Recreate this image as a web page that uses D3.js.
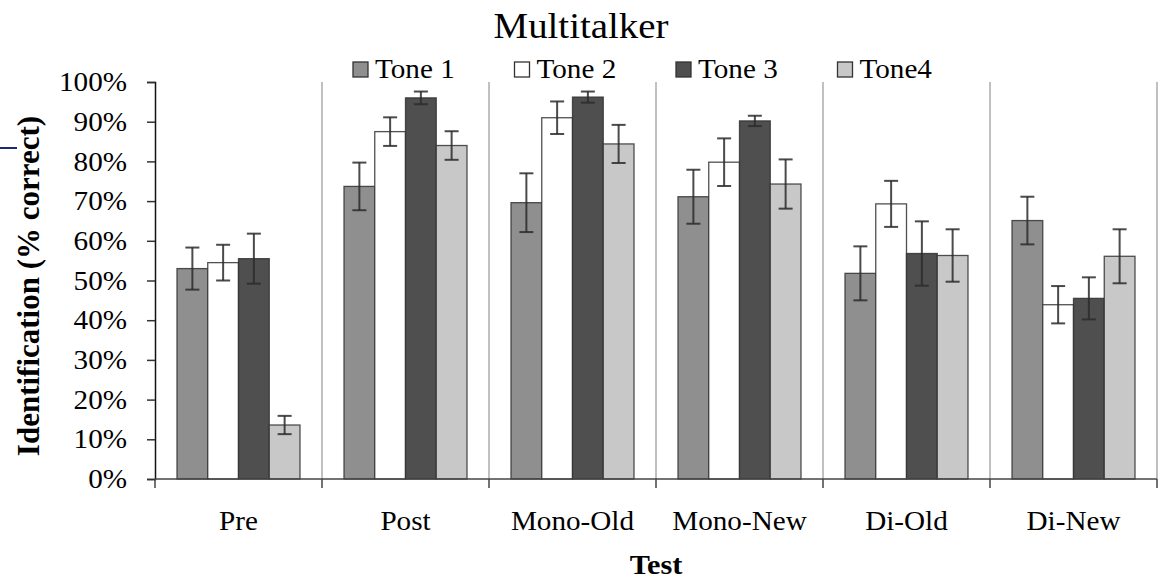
<!DOCTYPE html>
<html lang="en">
<head>
<meta charset="utf-8">
<title>Multitalker</title>
<script src="https://cdn.jsdelivr.net/npm/d3@7/dist/d3.min.js"></script>
<style>
body { margin: 0; background: #fff; }
text { font-family: "Liberation Serif", "Times New Roman", Times, serif; fill: #000; }
</style>
</head>
<body>
<script>
// data (percent correct, +/- error)
var tests = ["Pre", "Post", "Mono-Old", "Mono-New", "Di-Old", "Di-New"];
var tones = ["Tone 1", "Tone 2", "Tone 3", "Tone4"];
var tone1 = [53, 73.7, 69.6, 71.1, 51.8, 65.1];
var tone2 = [54.5, 87.5, 91, 79.8, 69.3, 43.9];
var tone3 = [55.5, 96, 96.2, 90.2, 56.8, 45.5];
var tone4 = [13.6, 84, 84.4, 74.3, 56.3, 56.1];
var err1 = [5.3, 6, 7.4, 6.8, 6.8, 6];
var err2 = [4.5, 3.6, 4.1, 6, 5.8, 4.7];
var err3 = [6.3, 1.6, 1.4, 1.3, 8.1, 5.3];
var err4 = [2.3, 3.6, 4.8, 6.2, 6.6, 6.8];
var yTicks = [0, 10, 20, 30, 40, 50, 60, 70, 80, 90, 100];

var values = [tone1, tone2, tone3, tone4];
var errors = [err1, err2, err3, err4];
var colors = ["#8f8f8f", "#ffffff", "#4f4f4f", "#c8c8c8"];

var w = 1163, h = 580;
var plotLeft = 155, plotRight = 1157, plotTop = 82, plotBottom = 479;
var SX = 1.08; // text in the picture is a bit wide

var svg = d3.select("body").append("svg")
    .attr("width", w)
    .attr("height", h);

var x0 = d3.scaleBand().domain(tests).range([plotLeft, plotRight]);
var x1 = d3.scaleBand().domain(tones).range([22, x0.bandwidth() - 22]);
var y = d3.scaleLinear().domain([0, 100]).range([plotBottom, plotTop]);

// flatten for binding
var rows = [];
tests.forEach(function(t, i) {
  tones.forEach(function(k, j) {
    rows.push({test: t, tone: k, j: j, v: values[j][i], e: errors[j][i]});
  });
});

// vertical separators
svg.append("g").selectAll("line")
  .data(tests)
  .enter().append("line")
  .attr("x1", function(d) { return x0(d) + x0.bandwidth(); })
  .attr("x2", function(d) { return x0(d) + x0.bandwidth(); })
  .attr("y1", y(100))
  .attr("y2", y(0))
  .attr("stroke", "#c0c0c0")
  .attr("stroke-width", 2);

// bars
svg.append("g").selectAll("rect")
  .data(rows)
  .enter().append("rect")
  .attr("x", function(d) { return x0(d.test) + x1(d.tone); })
  .attr("y", function(d) { return y(d.v); })
  .attr("width", x1.bandwidth())
  .attr("height", function(d) { return y(0) - y(d.v); })
  .attr("fill", function(d) { return colors[d.j]; })
  .attr("stroke", "#333")
  .attr("stroke-opacity", 0.85)
  .attr("stroke-width", 1.3);

// error bars
var eb = svg.append("g")
  .attr("stroke", "#2b2b2b")
  .attr("stroke-opacity", 0.85)
  .attr("stroke-width", 2);
var ebs = eb.selectAll("g")
  .data(rows)
  .enter().append("g")
  .attr("transform", function(d) {
    return "translate(" + (x0(d.test) + x1(d.tone) + x1.bandwidth() / 2) + ",0)";
  });
ebs.append("line")
  .attr("y1", function(d) { return y(d.v + d.e); })
  .attr("y2", function(d) { return y(d.v - d.e); });
ebs.append("line")
  .attr("x1", -7).attr("x2", 7)
  .attr("y1", function(d) { return y(d.v + d.e); })
  .attr("y2", function(d) { return y(d.v + d.e); });
ebs.append("line")
  .attr("x1", -7).attr("x2", 7)
  .attr("y1", function(d) { return y(d.v - d.e); })
  .attr("y2", function(d) { return y(d.v - d.e); });

// y axis
var yAxis = d3.axisLeft(y)
  .tickValues(yTicks)
  .tickFormat(function(d) { return d + "%"; })
  .tickSize(8)
  .tickPadding(28 / SX - 8);
var gy = svg.append("g")
  .attr("transform", "translate(" + plotLeft + ",0)")
  .call(yAxis);
gy.attr("font-family", null).attr("font-size", null);
gy.select(".domain").attr("stroke", "#111").attr("stroke-width", 1.5);
gy.selectAll(".tick line").attr("stroke", "#333").attr("stroke-width", 1.5);
gy.selectAll(".tick text")
  .style("font-size", "27px")
  .attr("transform", "scale(" + SX + ",1)");

// x axis line and boundary ticks
svg.append("line")
  .attr("x1", plotLeft).attr("x2", plotRight)
  .attr("y1", y(0)).attr("y2", y(0))
  .attr("stroke", "#444").attr("stroke-width", 1.5);
var bounds = [plotLeft].concat(tests.map(function(d) { return x0(d) + x0.bandwidth(); }));
svg.append("g").selectAll("line")
  .data(bounds)
  .enter().append("line")
  .attr("x1", function(d) { return d; })
  .attr("x2", function(d) { return d; })
  .attr("y1", y(0))
  .attr("y2", y(0) + 9)
  .attr("stroke", "#444")
  .attr("stroke-width", 1.5);

// category labels
svg.append("g").selectAll("text")
  .data(tests)
  .enter().append("text")
  .attr("transform", function(d) {
    return "translate(" + (x0(d) + x0.bandwidth() / 2) + ",530) scale(" + SX + ",1)";
  })
  .attr("text-anchor", "middle")
  .style("font-size", "27px")
  .text(function(d) { return d; });

// axis titles
svg.append("text")
  .attr("transform", "translate(" + ((plotLeft + plotRight) / 2) + ",574) scale(" + SX + ",1)")
  .attr("text-anchor", "middle")
  .style("font-size", "28px")
  .style("font-weight", "bold")
  .text("Test");

svg.append("text")
  .attr("transform", "translate(39,286) rotate(-90)")
  .attr("text-anchor", "middle")
  .style("font-size", "31px")
  .style("font-weight", "bold")
  .text("Identification (% correct)");

// title
svg.append("text")
  .attr("transform", "translate(581,38) scale(" + SX + ",1)")
  .attr("text-anchor", "middle")
  .style("font-size", "36px")
  .text("Multitalker");

// legend
var lg = svg.append("g").selectAll("g")
  .data(tones)
  .enter().append("g")
  .attr("transform", function(d, i) { return "translate(" + (353 + i * 161.5) + ",0)"; });
lg.append("rect")
  .attr("x", 0).attr("y", 62)
  .attr("width", 15).attr("height", 15)
  .attr("fill", function(d, i) { return colors[i]; })
  .attr("stroke", "#333")
  .attr("stroke-width", 1.3);
lg.append("text")
  .attr("transform", "translate(22,78) scale(" + SX + ",1)")
  .style("font-size", "27px")
  .text(function(d) { return d; });

// stray mark at the left edge of the picture
svg.append("line")
  .attr("x1", 0).attr("x2", 17)
  .attr("y1", 148).attr("y2", 148)
  .attr("stroke", "#1f2a6b")
  .attr("stroke-width", 2);
</script>
</body>
</html>
